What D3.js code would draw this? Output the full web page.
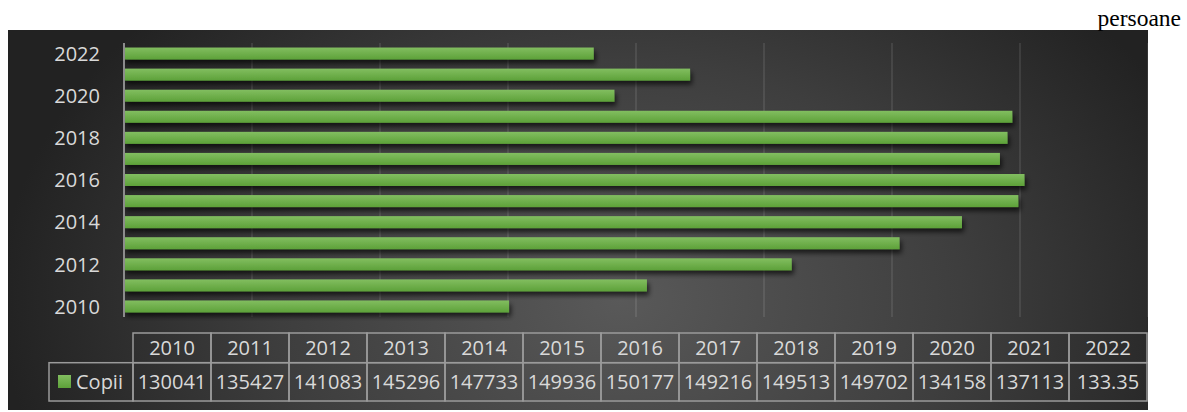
<!DOCTYPE html>
<html>
<head>
<meta charset="utf-8">
<script src="https://cdn.jsdelivr.net/npm/d3@7.9.0/dist/d3.min.js"></script>
<style>
  body { margin: 0; background: #fff; }
  svg { display: block; }
</style>
</head>
<body>
<svg id="chart" width="1187" height="412"></svg>
<script>
// data
const years = [2010, 2011, 2012, 2013, 2014, 2015, 2016, 2017, 2018, 2019, 2020, 2021, 2022];
const copii = [130041, 135427, 141083, 145296, 147733, 149936, 150177, 149216, 149513, 149702, 134158, 137113, 133350];
const tableText = ['130041', '135427', '141083', '145296', '147733', '149936', '150177', '149216', '149513', '149702', '134158', '137113', '133.35'];
const yLabelYears = [2010, 2012, 2014, 2016, 2018, 2020, 2022];
const seriesName = 'Copii';
const unitLabel = 'persoane';

const svg = d3.select('#chart');
const defs = svg.append('defs');

// background radial gradient
let bg = defs.append('radialGradient')
    .attr('id', 'bgGrad')
    .attr('gradientUnits', 'userSpaceOnUse')
    .attr('cx', 620).attr('cy', 300).attr('r', 620)
    .attr('gradientTransform', 'translate(620,300) scale(1,0.7) translate(-620,-300)');
bg.append('stop').attr('offset', '0%').attr('stop-color', '#595959');
bg.append('stop').attr('offset', '55%').attr('stop-color', '#3e3e3e');
bg.append('stop').attr('offset', '100%').attr('stop-color', '#222');

// bar gradient
let barGrad = defs.append('linearGradient')
    .attr('id', 'barGrad')
    .attr('x1', 0).attr('y1', 0).attr('x2', 0).attr('y2', 1);
barGrad.append('stop').attr('offset', '0%').attr('stop-color', '#82be60');
barGrad.append('stop').attr('offset', '100%').attr('stop-color', '#5da139');

let shadow = defs.append('filter').attr('id', 'shadow')
    .attr('x', '-5%').attr('y', '-50%').attr('width', '110%').attr('height', '220%');
shadow.append('feDropShadow')
    .attr('dx', 2).attr('dy', 4).attr('stdDeviation', 2.5)
    .attr('flood-color', '#000').attr('flood-opacity', 0.65);

svg.append('rect')
    .attr('x', 8).attr('y', 30).attr('width', 1140).attr('height', 380)
    .attr('fill', 'url(#bgGrad)');

// unit label top right
svg.append('text')
    .attr('x', 1181).attr('y', 26)
    .attr('text-anchor', 'end')
    .attr('font-family', '"Liberation Serif", serif')
    .attr('font-size', 23.5)
    .attr('fill', '#000')
    .text(unitLabel);

// scales
const x = d3.scaleLinear().domain([115000, 155000]).range([124, 1148]);
const y = d3.scaleBand().domain(years).range([317, 43])
    .paddingInner(0.43).paddingOuter(0.215);

// gridlines
svg.append('g')
    .selectAll('line')
    .data(x.ticks(8).filter(d => d > 115000))
    .join('line')
    .attr('x1', d => x(d)).attr('x2', d => x(d))
    .attr('y1', 43).attr('y2', 317)
    .attr('stroke', '#fff')
    .attr('stroke-opacity', 0.09)
    .attr('stroke-width', 2);

// bars
svg.append('g')
    .selectAll('rect')
    .data(years)
    .join('rect')
    .attr('x', x(115000))
    .attr('y', d => y(d))
    .attr('width', (d, i) => x(copii[i]) - x(115000))
    .attr('height', y.bandwidth())
    .attr('fill', 'url(#barGrad)')
    .attr('filter', 'url(#shadow)');

// y axis line
svg.append('line')
    .attr('x1', 124).attr('x2', 124)
    .attr('y1', 43).attr('y2', 317)
    .attr('stroke', '#8c8c8c')
    .attr('stroke-width', 2);

const textColor = '#d9d9d9';
const font = '"Open Sans", sans-serif';

// y axis labels (every other year)
svg.append('g')
    .selectAll('text')
    .data(yLabelYears)
    .join('text')
    .attr('x', 100)
    .attr('y', d => y(d) + y.bandwidth() / 2)
    .attr('dy', '0.36em')
    .attr('text-anchor', 'end')
    .attr('font-family', font)
    .attr('font-size', 20)
    .attr('fill', textColor)
    .text(d => d);

// data table
const col = d3.scaleBand().domain(years).range([133, 1147]);
const rowTop = 333, rowMid = 362.7, rowBot = 401;
const tbl = svg.append('g');
const gridColor = '#9a9a9a';

years.forEach((yr, i) => {
    tbl.append('rect')
        .attr('x', col(yr)).attr('y', rowTop)
        .attr('width', col.bandwidth()).attr('height', rowMid - rowTop)
        .attr('fill', 'none').attr('stroke', gridColor).attr('stroke-width', 1.5);
    tbl.append('rect')
        .attr('x', col(yr)).attr('y', rowMid)
        .attr('width', col.bandwidth()).attr('height', rowBot - rowMid)
        .attr('fill', 'none').attr('stroke', gridColor).attr('stroke-width', 1.5);
    tbl.append('text')
        .attr('x', col(yr) + col.bandwidth() / 2)
        .attr('y', (rowTop + rowMid) / 2)
        .attr('dy', '0.36em')
        .attr('text-anchor', 'middle')
        .attr('font-family', font).attr('font-size', 20)
        .attr('fill', textColor)
        .text(yr);
    tbl.append('text')
        .attr('x', col(yr) + col.bandwidth() / 2)
        .attr('y', (rowMid + rowBot) / 2)
        .attr('dy', '0.36em')
        .attr('text-anchor', 'middle')
        .attr('font-family', font).attr('font-size', 20)
        .attr('fill', textColor)
        .text(tableText[i]);
});

// legend cell
tbl.append('rect')
    .attr('x', 49).attr('y', rowMid)
    .attr('width', 133 - 49).attr('height', rowBot - rowMid)
    .attr('fill', 'none').attr('stroke', gridColor).attr('stroke-width', 1.5);
tbl.append('rect')
    .attr('x', 58).attr('y', 375).attr('width', 13).attr('height', 13)
    .attr('fill', 'url(#barGrad)');
tbl.append('text')
    .attr('x', 76).attr('y', (rowMid + rowBot) / 2)
    .attr('dy', '0.36em')
    .attr('font-family', font).attr('font-size', 20)
    .attr('fill', textColor)
    .text(seriesName);
</script>
</body>
</html>
